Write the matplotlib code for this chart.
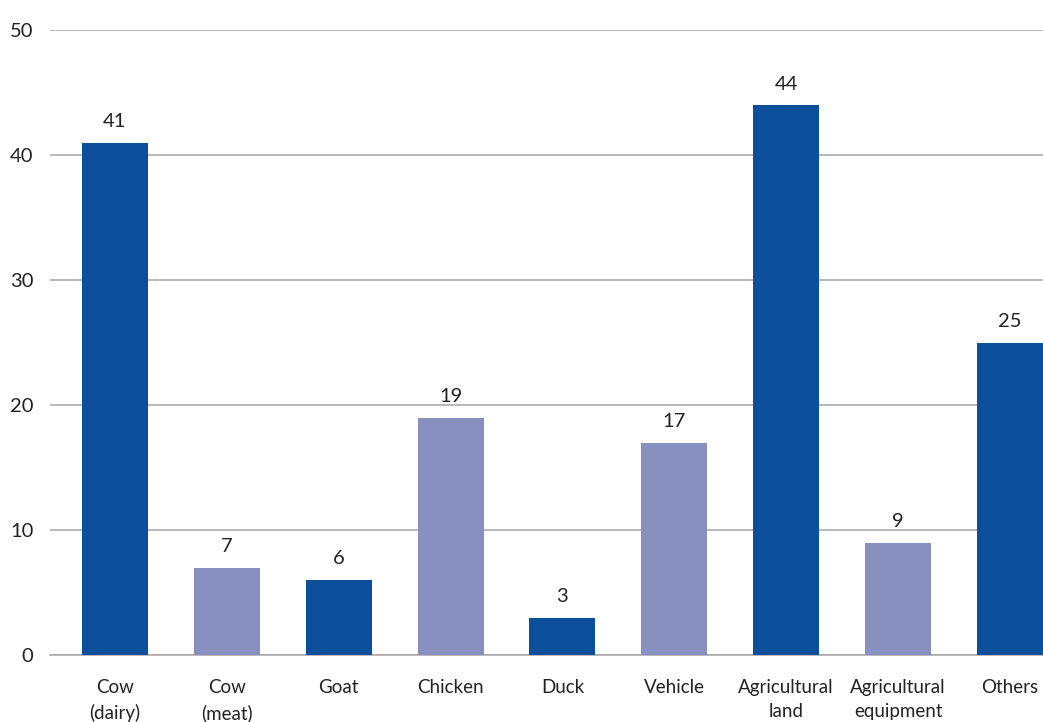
import matplotlib.pyplot as plt

categories = ["Cow\n(dairy)", "Cow\n(meat)", "Goat", "Chicken", "Duck",
              "Vehicle", "Agricultural\nland", "Agricultural\nequipment", "Others"]
values = [41, 7, 6, 19, 3, 17, 44, 9, 25]
dark = "#0d4f9b"
light = "#8890c0"
colors = [dark, light, dark, light, dark, light, dark, light, dark]

plt.rcParams['font.family'] = ['Lato', 'DejaVu Sans']

fig = plt.figure(figsize=(10.43, 7.22), dpi=100)
ax = fig.add_axes([50 / 1043, 67 / 722, 993 / 1043, 625 / 722])

x = range(len(values))
bars = ax.bar(x, values, width=0.59, color=colors, zorder=3)
for b, v in zip(bars, values):
    ax.annotate(str(v), (b.get_x() + b.get_width() / 2, v), xytext=(0, 9),
                textcoords="offset points", ha="center", va="bottom",
                fontsize=14.5, color="#222222")

ax.set_ylim(0, 50)
ax.set_xlim(-0.58, 8.295)
ax.set_yticks([0, 10, 20, 30, 40, 50])
ax.set_xticks(list(x))
ax.set_xticklabels(categories, fontsize=13.5, color="#222222", linespacing=1.55)
ax.tick_params(axis="y", labelsize=14.5, labelcolor="#222222", length=0, pad=12)
ax.tick_params(axis="x", length=0, pad=17)
ax.yaxis.grid(True, color="#a6a6a6", linewidth=1.1, zorder=0)
for s in ["top", "right", "left"]:
    ax.spines[s].set_visible(False)
ax.spines["bottom"].set_color("#a6a6a6")
ax.spines["bottom"].set_linewidth(1.1)

fig.savefig("out.png", dpi=100)
